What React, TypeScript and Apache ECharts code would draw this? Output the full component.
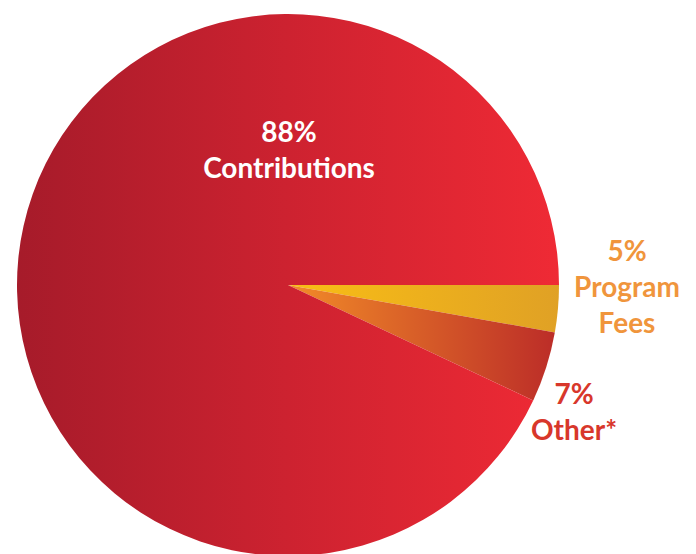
import React, { useEffect, useRef } from "react";
import * as echarts from "echarts";

// Categories and labelled percentages as printed on the chart
const categories = ["Program Fees", "Other*", "Contributions"];
const labelPercents = [5, 7, 88];
// Slice sizes as actually drawn in the picture (angle share, %)
const drawnShares = [2.8, 4.2, 93.0];

const labelColors = ["#f0953c", "#d8372b", "#ffffff"];
const sliceGradients = [
  [
    { offset: 0, color: "#f9be15" },
    { offset: 1, color: "#e0a125" },
  ],
  [
    { offset: 0, color: "#f28c28" },
    { offset: 1, color: "#bc2d28" },
  ],
  [
    { offset: 0, color: "#a61b2a" },
    { offset: 0.5, color: "#cd2230" },
    { offset: 1, color: "#ef2a35" },
  ],
];
const labelSpots = [
  { x: 627, y: 286 },
  { x: 574, y: 411 },
  { x: 289, y: 149 },
];

export default function App() {
  const ref = useRef<HTMLDivElement>(null);
  useEffect(() => {
    if (!ref.current) return;
    const chart = echarts.init(ref.current, null, { renderer: "svg" });
    const data = categories.map((name, i) => ({
      name,
      value: drawnShares[i],
      itemStyle: {
        color: new echarts.graphic.LinearGradient(0, 0, 1, 0, sliceGradients[i]),
      },
      label: {
        color: labelColors[i],
        formatter: () =>
          `${labelPercents[i]}%\n${name.replace("Program Fees", "Program\nFees")}`,
      },
    }));
    chart.setOption({
      animation: false,
      series: [
        {
          type: "pie",
          center: [288, 285],
          radius: 271,
          startAngle: 0,
          clockwise: true,
          silent: true,
          data,
          label: {
            show: true,
            position: "inside",
            fontFamily: "Lato",
            fontSize: 28,
            fontWeight: "bold",
            lineHeight: 36,
            align: "center",
          },
          labelLine: { show: false },
          labelLayout: (params: any) => ({
            x: labelSpots[params.dataIndex].x,
            y: labelSpots[params.dataIndex].y,
            align: "center",
            verticalAlign: "middle",
          }),
          itemStyle: { borderWidth: 0 },
          emphasis: { disabled: true },
        },
      ],
    });
    return () => chart.dispose();
  }, []);
  return (
    <div
      ref={ref}
      style={{ position: "fixed", left: 0, top: 0, width: 696, height: 554, background: "#fff" }}
    />
  );
}
